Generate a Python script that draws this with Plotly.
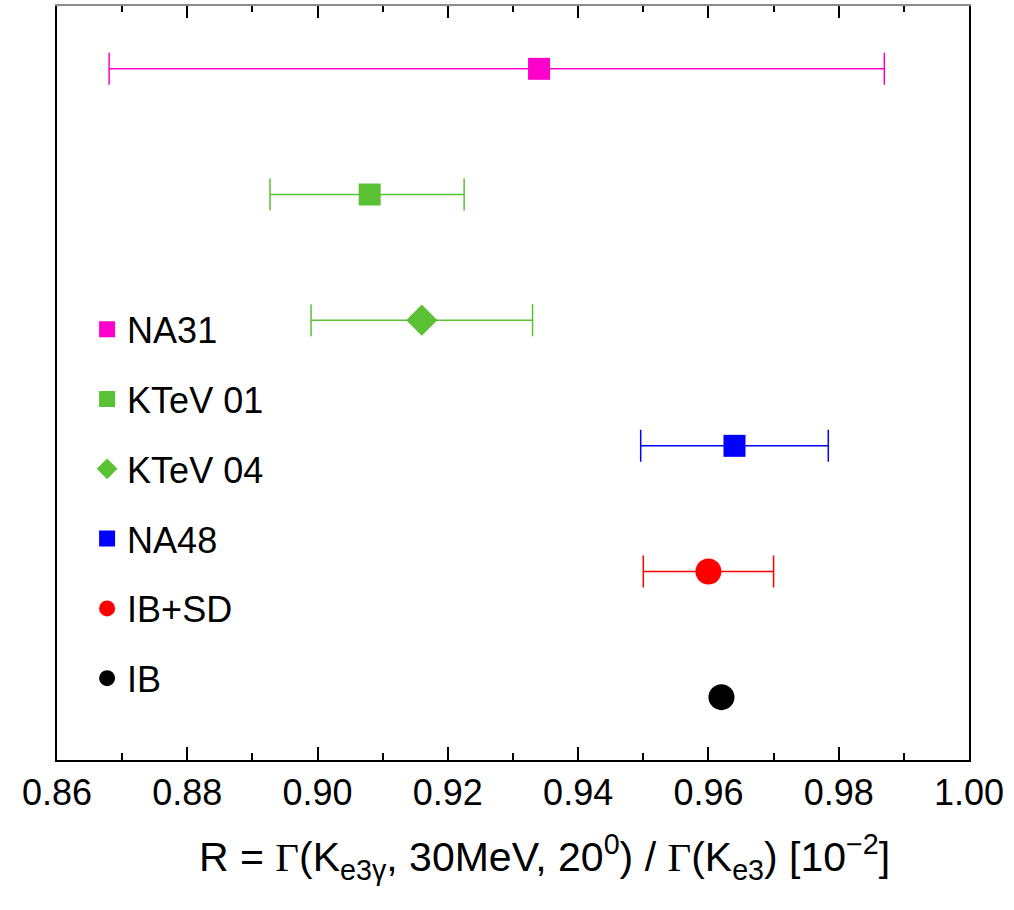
import plotly.graph_objects as go

# ---- data ----
names = ["NA31", "KTeV 01", "KTeV 04", "NA48", "IB+SD", "IB"]
values = [0.934, 0.908, 0.916, 0.964, 0.960, 0.962]
err_plus = [0.053, 0.0145, 0.017, 0.0144, 0.010, None]
err_minus = [0.066, 0.0153, 0.017, 0.0144, 0.010, None]
rows = [6, 5, 4, 3, 2, 1]
colors = ["#ff00cc", "#5ac034", "#5ac034", "#0000ff", "#ff0000", "#000000"]
symbols = ["square", "square", "diamond", "square", "circle", "circle"]
sizes = [22, 22, 24, 22, 26, 26]

x_ticks = [0.86, 0.88, 0.90, 0.92, 0.94, 0.96, 0.98, 1.00]
x_range = [0.86, 1.00]
y_range = [0.5, 6.5]

FONT = "Liberation Sans, Arial, Helvetica, sans-serif"

fig = go.Figure()
for i, n in enumerate(names):
    ex = None
    if err_plus[i] is not None:
        ex = dict(type="data", symmetric=False, array=[err_plus[i]],
                  arrayminus=[err_minus[i]], color=colors[i],
                  thickness=1.5, width=16)
    fig.add_trace(go.Scatter(
        x=[values[i]], y=[rows[i]], mode="markers", name=n,
        legendgroup=n,
        marker=dict(symbol=symbols[i], size=sizes[i], color=colors[i],
                    line=dict(width=0)),
        error_x=ex,
    ))

# empty trace so that the top (mirror) axis is drawn
fig.add_trace(go.Scatter(x=[], y=[], xaxis="x2", showlegend=False,
                         hoverinfo="skip"))

title = ("R = <span style='font-family:Liberation Serif'>Γ</span>(K<sub>e3γ</sub>, 30MeV, 20<sup>0</sup>) / "
         "<span style='font-family:Liberation Serif'>Γ</span>(K<sub>e3</sub>) [10<sup>−2</sup>]")

fig.update_layout(
    width=1014, height=910,
    margin=dict(l=57, r=45, t=6, b=150),
    plot_bgcolor="white", paper_bgcolor="white",
    font=dict(family=FONT, size=36, color="black"),
    showlegend=True,
    legend=dict(x=0.033, y=0.611, xanchor="left", yanchor="top",
                bgcolor="rgba(0,0,0,0)", font=dict(size=36, family=FONT),
                tracegroupgap=20, itemwidth=30),
    xaxis=dict(range=x_range, tickvals=x_ticks, tickformat=".2f",
               ticks="inside", ticklen=13, tickwidth=1.5, tickcolor="black",
               minor=dict(dtick=0.01, ticks="inside", ticklen=7,
                          tickwidth=1.5, tickcolor="black"),
               showline=True, linecolor="black", linewidth=2, mirror=False,
               showgrid=False, zeroline=False,
               tickfont=dict(size=36, family=FONT)),
    xaxis2=dict(range=x_range, overlaying="x", side="top", anchor="y",
                tickvals=x_ticks, showticklabels=False,
                ticks="inside", ticklen=12, tickwidth=1.5, tickcolor="black",
                minor=dict(dtick=0.01, ticks="inside", ticklen=6,
                           tickwidth=1.5, tickcolor="black"),
                showline=True, linecolor="#8c8c8c", linewidth=2,
                showgrid=False, zeroline=False),
    yaxis=dict(range=y_range, showticklabels=False, ticks="",
               showline=True, linecolor="black", linewidth=2, mirror=True,
               showgrid=False, zeroline=False),
    annotations=[dict(text=title, xref="paper", yref="paper",
                      x=0.535, y=-0.129, xanchor="center", yanchor="middle",
                      showarrow=False, font=dict(size=41, family=FONT))],
)

fig.write_html("out.html", config={"displayModeBar": False},
               post_script="document.body.style.margin='0px';document.body.style.padding='0px';")
